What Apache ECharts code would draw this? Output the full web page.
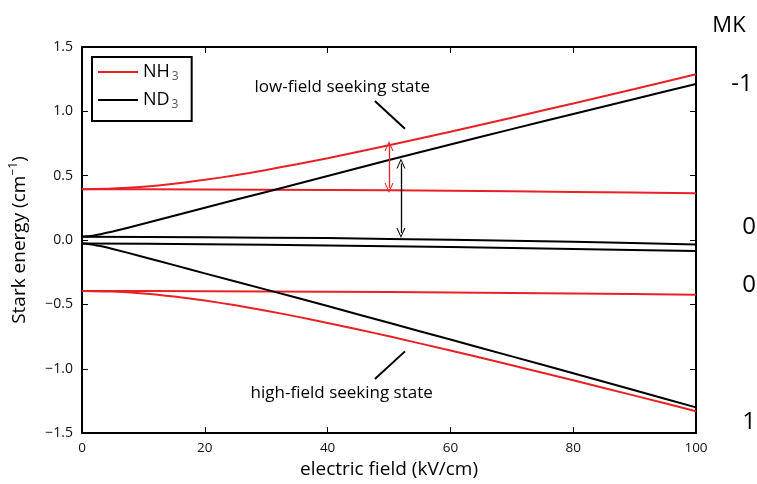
<!DOCTYPE html>
<html>
<head>
<meta charset="utf-8">
<script src="https://cdn.jsdelivr.net/npm/echarts@6/dist/echarts.min.js"></script>
<style>
html,body{margin:0;padding:0;background:#fff;}
#main{width:757px;height:484px;}
</style>
</head>
<body>
<div id="main"></div>
<script>
// ---- data ----
const fieldNH3 = [0,5,10,15,20,25,30,35,40,45,50,60,70,80,90,100];
const nh3Upper = [0.395,0.400,0.414,0.437,0.468,0.503,0.545,0.589,0.636,0.686,0.737,0.842,0.951,1.061,1.173,1.288];
const nh3Lower = [-0.395,-0.400,-0.415,-0.439,-0.470,-0.507,-0.549,-0.595,-0.644,-0.695,-0.748,-0.858,-0.973,-1.090,-1.209,-1.330];

const fieldFlat = [0,20,40,60,80,100];
const nh3FlatUpper = [0.395,0.393,0.389,0.383,0.374,0.364];
const nh3FlatLower = [-0.395,-0.397,-0.401,-0.407,-0.415,-0.425];

const fieldND3 = [0,1,2,3,5,10,15,20,30,40,50,60,70,80,90,100];
const nd3Upper = [0.027,0.029,0.036,0.045,0.066,0.127,0.189,0.251,0.374,0.498,0.622,0.743,0.862,0.979,1.096,1.213];
const nd3Lower = [-0.027,-0.030,-0.038,-0.047,-0.069,-0.131,-0.195,-0.259,-0.385,-0.513,-0.643,-0.773,-0.904,-1.035,-1.167,-1.300];
const nd3FlatUpper = [0.026,0.022,0.015,0.002,-0.014,-0.034];
const nd3FlatLower = [-0.026,-0.032,-0.042,-0.054,-0.069,-0.085];

const xTicks = [0,20,40,60,80,100];
const yTicks = [-1.5,-1.0,-0.5,0.0,0.5,1.0,1.5];
const mkLabels = ['MK','-1','0','0','1'];

// annotation anchors (data coordinates)
const lowText = {label:'low-field seeking state', at:[42.4,1.19]};
const highText = {label:'high-field seeking state', at:[42.3,-1.19]};
const lowLeader = [[47.7,1.08],[52.6,0.865]];
const highLeader = [[52.6,-0.865],[47.7,-1.08]];
const redArrow = [[50.0,0.73],[50.0,0.405]];
const blackArrow = [[51.95,0.595],[51.95,0.055]];

// ---- chart ----
const FONT = 'Open Sans';
const RED = '#e82127';
const BLACK = '#000';
const pairs = (xs, ys) => xs.map((x,i)=>[x, ys[i]]);

function lineSeries(name, color, xs, ys){
  return {
    type:'line', name:name, data:pairs(xs,ys), showSymbol:false, symbol:'none',
    smooth:0.2, clip:false,
    lineStyle:{color:color,width:2}, itemStyle:{color:color},
    emphasis:{disabled:true}, silent:true, z:color===RED?2:3
  };
}

const chevron = 'path://M0,12 L6,0 L12,12 L10.6,12 L6,2.8 L1.4,12 Z';

const axisCommonX = {
  type:'value', min:0, max:100, interval:20,
  axisLine:{show:true,onZero:false,lineStyle:{color:'#000',width:2}},
  axisTick:{show:true,inside:true,length:6,lineStyle:{color:'#000',width:1}},
  splitLine:{show:false}
};
const axisCommonY = {
  type:'value', min:-1.5, max:1.5, interval:0.5,
  axisLine:{show:true,onZero:false,lineStyle:{color:'#000',width:2}},
  axisTick:{show:true,inside:true,length:6,lineStyle:{color:'#000',width:1}},
  splitLine:{show:false}
};

const option = {
  animation:false,
  backgroundColor:'#fff',
  grid:{left:82,right:61,top:47,bottom:45,containLabel:false},
  legend:{
    orient:'vertical', left:92, top:57,
    data:['NH3','ND3'],
    backgroundColor:'#fff',
    borderColor:'#000', borderWidth:2, borderRadius:0,
    padding:[6,13,10,6],
    itemGap:8, itemWidth:40, itemHeight:2, itemTextGap:15,
    icon:'rect',
    formatter:function(n){ return n==='NH3' ? '{a|NH}{s|3}' : '{a|ND}{s|3}'; },
    textStyle:{
      rich:{
        a:{fontFamily:FONT,fontSize:18,color:'#000',lineHeight:22},
        s:{fontFamily:FONT,fontSize:12,color:'#555',lineHeight:10,verticalAlign:'bottom',padding:[0,0,0,2]}
      }
    },
    selectedMode:false
  },
  xAxis:[
    Object.assign({}, axisCommonX, {
      position:'bottom',
      axisLabel:{show:true,color:'#111',fontFamily:FONT,fontSize:13.5,margin:8,
        formatter:function(v){ return xTicks.indexOf(v)>=0 ? String(v) : ''; }},
      name:'electric field (kV/cm)', nameLocation:'middle', nameGap:20,
      nameTextStyle:{fontFamily:FONT,fontSize:19,color:'#000'}
    }),
    Object.assign({}, axisCommonX, {position:'top', axisLabel:{show:false}})
  ],
  yAxis:[
    Object.assign({}, axisCommonY, {
      position:'left',
      axisLabel:{show:true,color:'#111',fontFamily:FONT,fontSize:14,margin:9,
        formatter:function(v){ const t = yTicks.find(k=>Math.abs(k-v)<1e-9); return t===undefined ? '' : t.toFixed(1).replace('-','\u2212'); }},
      name:'{a|Stark energy (cm}{s|\u22121}{a|)}', nameLocation:'middle', nameGap:50,
      nameTextStyle:{
        rich:{
          a:{fontFamily:FONT,fontSize:19,color:'#000',lineHeight:24},
          s:{fontFamily:FONT,fontSize:12,color:'#000',lineHeight:12,verticalAlign:'top'}
        }
      }
    }),
    Object.assign({}, axisCommonY, {position:'right', axisLabel:{show:false}})
  ],
  series:[
    lineSeries('NH3', RED, fieldNH3, nh3Upper),
    lineSeries('NH3', RED, fieldFlat, nh3FlatUpper),
    lineSeries('NH3', RED, fieldFlat, nh3FlatLower),
    lineSeries('NH3', RED, fieldNH3, nh3Lower),
    lineSeries('ND3', BLACK, fieldND3, nd3Upper),
    lineSeries('ND3', BLACK, fieldFlat, nd3FlatUpper),
    lineSeries('ND3', BLACK, fieldFlat, nd3FlatLower),
    lineSeries('ND3', BLACK, fieldND3, nd3Lower),
    {
      type:'line', name:'annotations', data:[], silent:true, z:5,
      markLine:{
        silent:true, animation:false, precision:4,
        label:{show:false},
        emphasis:{disabled:true},
        data:[
          [{coord:lowLeader[0],symbol:'none',lineStyle:{color:'#000',width:2,type:'solid'}},{coord:lowLeader[1],symbol:'none'}],
          [{coord:highLeader[0],symbol:'none',lineStyle:{color:'#000',width:2,type:'solid'}},{coord:highLeader[1],symbol:'none'}],
          [{coord:redArrow[0],symbol:chevron,symbolSize:[9,10],lineStyle:{color:RED,width:1.3,type:'solid'},itemStyle:{color:RED}},{coord:redArrow[1],symbol:chevron,symbolSize:[9,10]}],
          [{coord:blackArrow[0],symbol:chevron,symbolSize:[9,10],lineStyle:{color:'#000',width:1.3,type:'solid'},itemStyle:{color:'#000'}},{coord:blackArrow[1],symbol:chevron,symbolSize:[9,10]}]
        ]
      },
      markPoint:{
        silent:true, animation:false,
        symbol:'circle', symbolSize:0,
        label:{show:true,position:'inside',fontFamily:FONT,fontSize:17,color:'#000'},
        data:[
          {coord:lowText.at, value:0, label:{formatter:lowText.label}},
          {coord:highText.at, value:0, label:{formatter:highText.label}}
        ]
      }
    }
  ],
  graphic:[
    {type:'text', x:729, y:26, style:{text:mkLabels[0],fontFamily:FONT,fontSize:22,fill:'#000',align:'center',verticalAlign:'middle'}},
    {type:'text', x:742, y:84, style:{text:mkLabels[1],fontFamily:FONT,fontSize:24,fill:'#000',align:'center',verticalAlign:'middle'}},
    {type:'text', x:749, y:227, style:{text:mkLabels[2],fontFamily:FONT,fontSize:24,fill:'#000',align:'center',verticalAlign:'middle'}},
    {type:'text', x:749, y:285, style:{text:mkLabels[3],fontFamily:FONT,fontSize:24,fill:'#000',align:'center',verticalAlign:'middle'}},
    {type:'text', x:749, y:422, style:{text:mkLabels[4],fontFamily:FONT,fontSize:24,fill:'#000',align:'center',verticalAlign:'middle'}}
  ]
};

const chart = echarts.init(document.getElementById('main'), null, {renderer:'canvas'});
chart.setOption(option);
</script>
</body>
</html>
